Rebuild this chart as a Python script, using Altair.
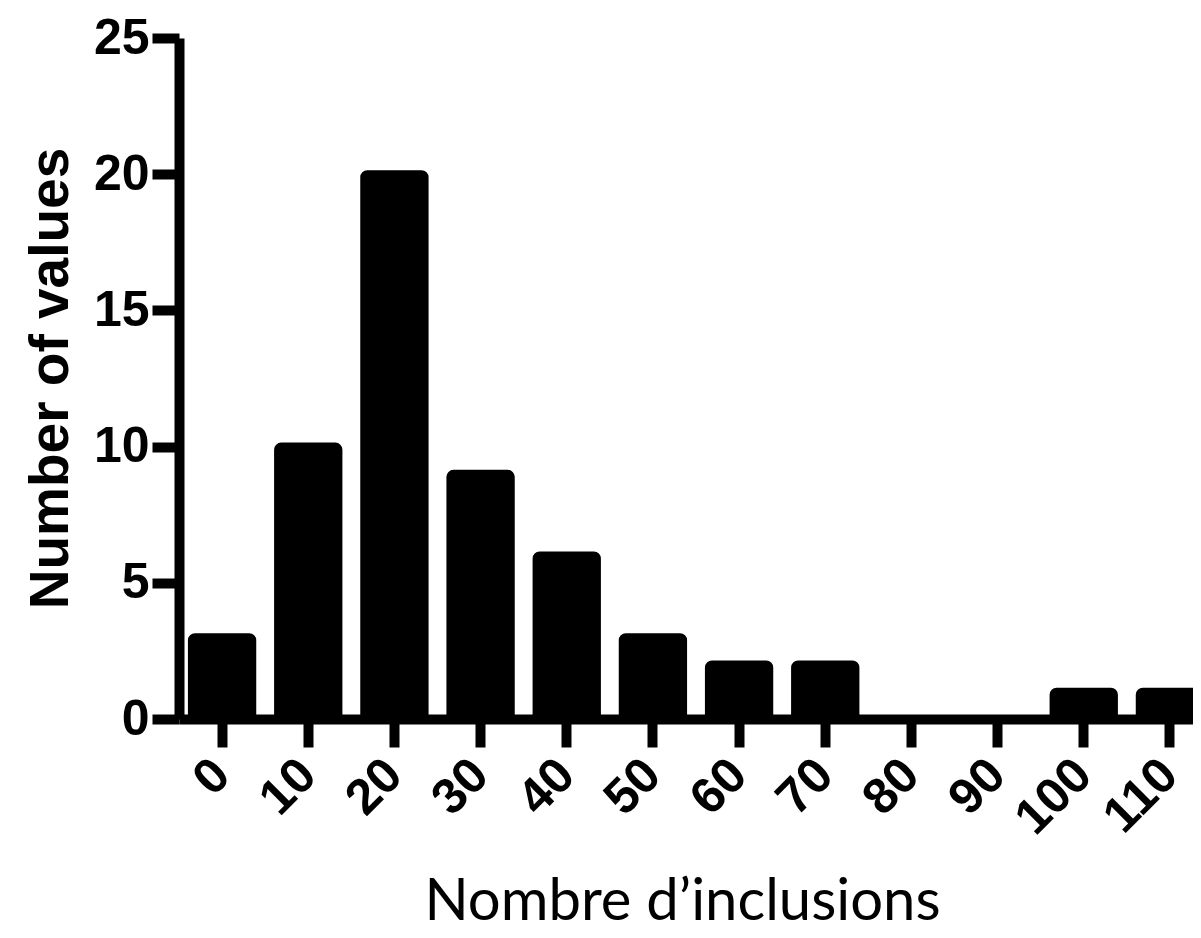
import altair as alt
import pandas as pd

categories = ["0", "10", "20", "30", "40", "50", "60", "70", "80", "90", "100", "110"]
counts = [3, 10, 20, 9, 6, 3, 2, 2, 0, 0, 1, 1]
y_ticks = [0, 5, 10, 15, 20, 25]

df = pd.DataFrame({"bin": categories, "count": counts})

label_font = "Liberation Sans"

chart = alt.Chart(df).mark_bar(
    color="black",
    stroke="black",
    strokeWidth=8,
    strokeJoin="round",
    cornerRadiusTopLeft=3,
    cornerRadiusTopRight=3,
).encode(
    x=alt.X(
        "bin:N",
        sort=categories,
        scale=alt.Scale(paddingInner=0.3, paddingOuter=0.15),
        axis=alt.Axis(
            title="Nombre d’inclusions",
            titleFont="Lato",
            titleFontSize=58,
            titleFontWeight="normal",
            titleColor="black",
            titleBaseline="alphabetic",
            titleAlign="center",
            titleX=503,
            titleY=200,
            labelAngle=-45,
            labelAlign="right",
            labelBaseline="middle",
            labelFont=label_font,
            labelFontSize=50,
            labelFontWeight="bold",
            labelColor="black",
            labelPadding=20,
            tickSize=28,
            tickWidth=10,
            tickColor="black",
            domainWidth=10,
            domainColor="black",
            grid=False,
        ),
    ),
    y=alt.Y(
        "count:Q",
        scale=alt.Scale(domain=[0, 25], nice=False),
        axis=alt.Axis(
            title="Number of values",
            titleFont=label_font,
            titleFontSize=55,
            titleFontWeight="bold",
            titleColor="black",
            titleBaseline="alphabetic",
            titleAlign="center",
            titleAngle=-90,
            titleX=-112,
            titleY=340,
            values=y_ticks,
            labelFont=label_font,
            labelFontSize=50,
            labelFontWeight="bold",
            labelColor="black",
            labelPadding=3,
            tickSize=27,
            tickWidth=10,
            tickColor="black",
            domainWidth=10,
            domainColor="black",
            grid=False,
        ),
    ),
).properties(
    width=1034,
    height=681,
    autosize=alt.AutoSizeParams(type="none"),
    padding={"left": 171, "top": 30, "right": -20, "bottom": 211},
).configure_view(stroke=None)

chart.save("out.html", embed_options={"renderer": "svg", "actions": False})
